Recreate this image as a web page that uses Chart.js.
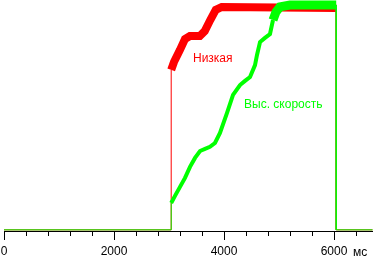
<!DOCTYPE html>
<html>
<head>
<meta charset="utf-8">
<script src="https://cdn.jsdelivr.net/npm/chart.js@4"></script>
<style>
  body { margin: 0; background: #fff; }
  canvas { display: block; }
</style>
</head>
<body>
<canvas id="chart" width="373" height="257"></canvas>
<script>
// series names
const seriesNames = ['Низкая', 'Выс. скорость'];

// red curve (ms, value)
const redTimes = [0, 3040, 3040, 3090, 3200, 3290, 3380, 3560, 3650, 3750, 3850, 3960, 6040, 6040, 6700];
const redValues = [0, 0, 69.6, 73, 78.3, 83, 84.3, 84.3, 86.5, 91.3, 95.7, 97, 96.5, 0, 0];

// green curve (ms, value)
const greenTimes = [0, 3040, 3040, 3109, 3200, 3291, 3382, 3473, 3564, 3655, 3745, 3836, 3927, 4055, 4164, 4291, 4382, 4473, 4564, 4600, 4655, 4745, 4836, 4891, 4945, 5018, 5200, 6040, 6040, 6700];
const greenValues = [0, 0, 11.7, 14.8, 18.7, 22.6, 27.4, 31.3, 34.3, 35.2, 36.1, 37.8, 42.2, 50.9, 58.7, 63, 64.8, 66.5, 71.7, 76.1, 81.7, 83.5, 85.2, 91.3, 94.8, 97, 97.8, 97.8, 0, 0];

// x axis
const tickStep = 400;
const tickLast = 6400;
const majorTicks = [0, 2000, 4000, 6000];
const axisUnit = 'мс';

const toPoints = (xs, ys) => xs.map((x, i) => ({x: x, y: ys[i]}));

function segWidth(thick) {
  return ctx => {
    const a = ctx.p0.parsed, b = ctx.p1.parsed;
    if (a.x === b.x) return 1;
    if (a.y === 0 && b.y === 0) return 1;
    return typeof thick === 'function' ? thick(a, b) : thick;
  };
}

const extras = {
  id: 'extras',
  afterDraw(chart) {
    const c = chart.ctx;
    const x = chart.scales.x, y = chart.scales.y;
    const bottom = chart.chartArea.bottom;
    c.save();
    // longer major ticks
    c.strokeStyle = '#000';
    c.lineWidth = 1;
    majorTicks.forEach(v => {
      const px = Math.round(x.getPixelForValue(v)) + 0.5;
      c.beginPath();
      c.moveTo(px, bottom);
      c.lineTo(px, bottom + 9);
      c.stroke();
    });
    c.font = '12px "Liberation Sans", Arial, sans-serif';
    c.textBaseline = 'alphabetic';
    c.fillStyle = '#000';
    c.fillText(axisUnit, 353, 256);
    // series labels
    c.fillStyle = '#ff0000';
    c.fillText(seriesNames[0], x.getPixelForValue(3436), y.getPixelForValue(73));
    c.fillStyle = '#00ff00';
    c.fillText(seriesNames[1], x.getPixelForValue(4364), y.getPixelForValue(53));
    c.restore();
  }
};

const ctx = document.getElementById('chart').getContext('2d');
const chart = new Chart(ctx, {
  type: 'line',
  data: {
    datasets: [{
      label: seriesNames[1],
      data: toPoints(greenTimes, greenValues),
      borderColor: '#00ff00',
      borderWidth: 1,
      pointRadius: 0,
      tension: 0,
      clip: false,
      segment: {
        borderWidth: segWidth((a, b) => (a.y > 90 && b.y > 90) ? 9 : 4)
      }
    }, {
      label: seriesNames[0],
      data: toPoints(redTimes, redValues),
      borderColor: '#ff0000',
      borderWidth: 1,
      pointRadius: 0,
      tension: 0,
      clip: false,
      segment: {
        borderWidth: segWidth(8)
      }
    }]
  },
  options: {
    responsive: false,
    animation: false,
    devicePixelRatio: 1,
    layout: { padding: { left: 4, right: 0, top: 0, bottom: 0 } },
    plugins: {
      legend: { display: false },
      tooltip: { enabled: false }
    },
    scales: {
      x: {
        type: 'linear',
        min: 0,
        max: 6709,
        afterBuildTicks: axis => {
          const t = [];
          for (let v = 0; v <= tickLast; v += tickStep) t.push({value: v});
          axis.ticks = t;
        },
        afterFit: axis => {
          axis.height = 26;
          axis.paddingLeft = 0;
          axis.paddingRight = 0;
        },
        ticks: {
          autoSkip: false,
          maxRotation: 0,
          padding: 8,
          color: '#000',
          font: { family: '"Liberation Sans", Arial, sans-serif', size: 12 },
          callback: v => majorTicks.includes(v) ? String(v) : ''
        },
        grid: {
          drawOnChartArea: false,
          tickLength: 5,
          tickColor: '#000',
          tickWidth: 1
        },
        border: { color: '#000', width: 1 }
      },
      y: {
        display: false,
        min: -0.5,
        max: 100
      }
    }
  },
  plugins: [extras]
});
</script>
</body>
</html>
